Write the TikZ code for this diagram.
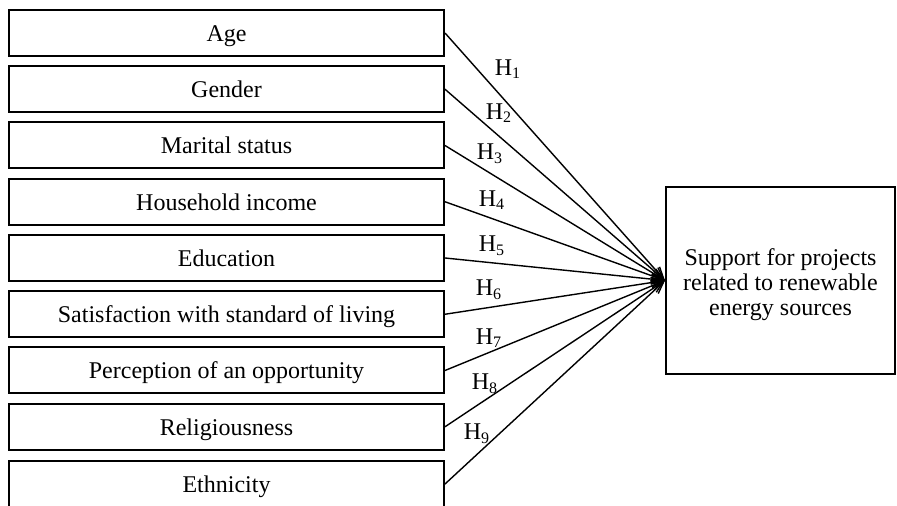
\documentclass[tikz,border=0pt]{standalone}
\usepackage{fontspec}
\setmainfont{Liberation Serif}
\usetikzlibrary{arrows.meta}
\begin{document}
\begin{tikzpicture}[x=0.5pt,y=-0.5pt,
  every node/.style={font=\fontsize{12}{12.5}\selectfont},
  factor/.style={draw,line width=1pt,minimum width=217.5pt,minimum height=23pt,inner sep=0pt,text height=10.5pt,text depth=2pt},
  target/.style={draw,line width=1pt,minimum width=114.5pt,minimum height=93.5pt,inner sep=0pt},
  caption/.style={align=center,inner sep=0pt},
  link/.style={line width=0.7pt,-{Straight Barb[length=6pt,width=5pt]}},
  hyp/.style={inner sep=0pt}]
\useasboundingbox (0,0) rectangle (897,506);
\node[factor] (f1) at (226.5,33) {Age};
\node[factor] (f2) at (226.5,89.25) {Gender};
\node[factor] (f3) at (226.5,145.5) {Marital status};
\node[factor] (f4) at (226.5,201.75) {Household income};
\node[factor] (f5) at (226.5,258) {Education};
\node[factor] (f6) at (226.5,314.25) {Satisfaction with standard of living};
\node[factor] (f7) at (226.5,370.5) {Perception of an opportunity};
\node[factor] (f8) at (226.5,426.75) {Religiousness};
\node[factor] (f9) at (226.5,484) {Ethnicity};
\node[target] (t) at (780.5,280.5) {};
\node[caption] (tc) at (780.5,284.5) {Support for projects\\related to renewable\\energy sources};
\foreach \i in {1,...,9} \draw[link] (f\i.east) -- (t.west);
\node[hyp] (h1) at (508,69) {H\textsubscript{1}};
\node[hyp] (h2) at (499,113) {H\textsubscript{2}};
\node[hyp] (h3) at (490,154) {H\textsubscript{3}};
\node[hyp] (h4) at (492,200) {H\textsubscript{4}};
\node[hyp] (h5) at (492,246) {H\textsubscript{5}};
\node[hyp] (h6) at (489,290) {H\textsubscript{6}};
\node[hyp] (h7) at (489,338) {H\textsubscript{7}};
\node[hyp] (h8) at (485,384) {H\textsubscript{8}};
\node[hyp] (h9) at (477,434) {H\textsubscript{9}};
\end{tikzpicture}
\end{document}
